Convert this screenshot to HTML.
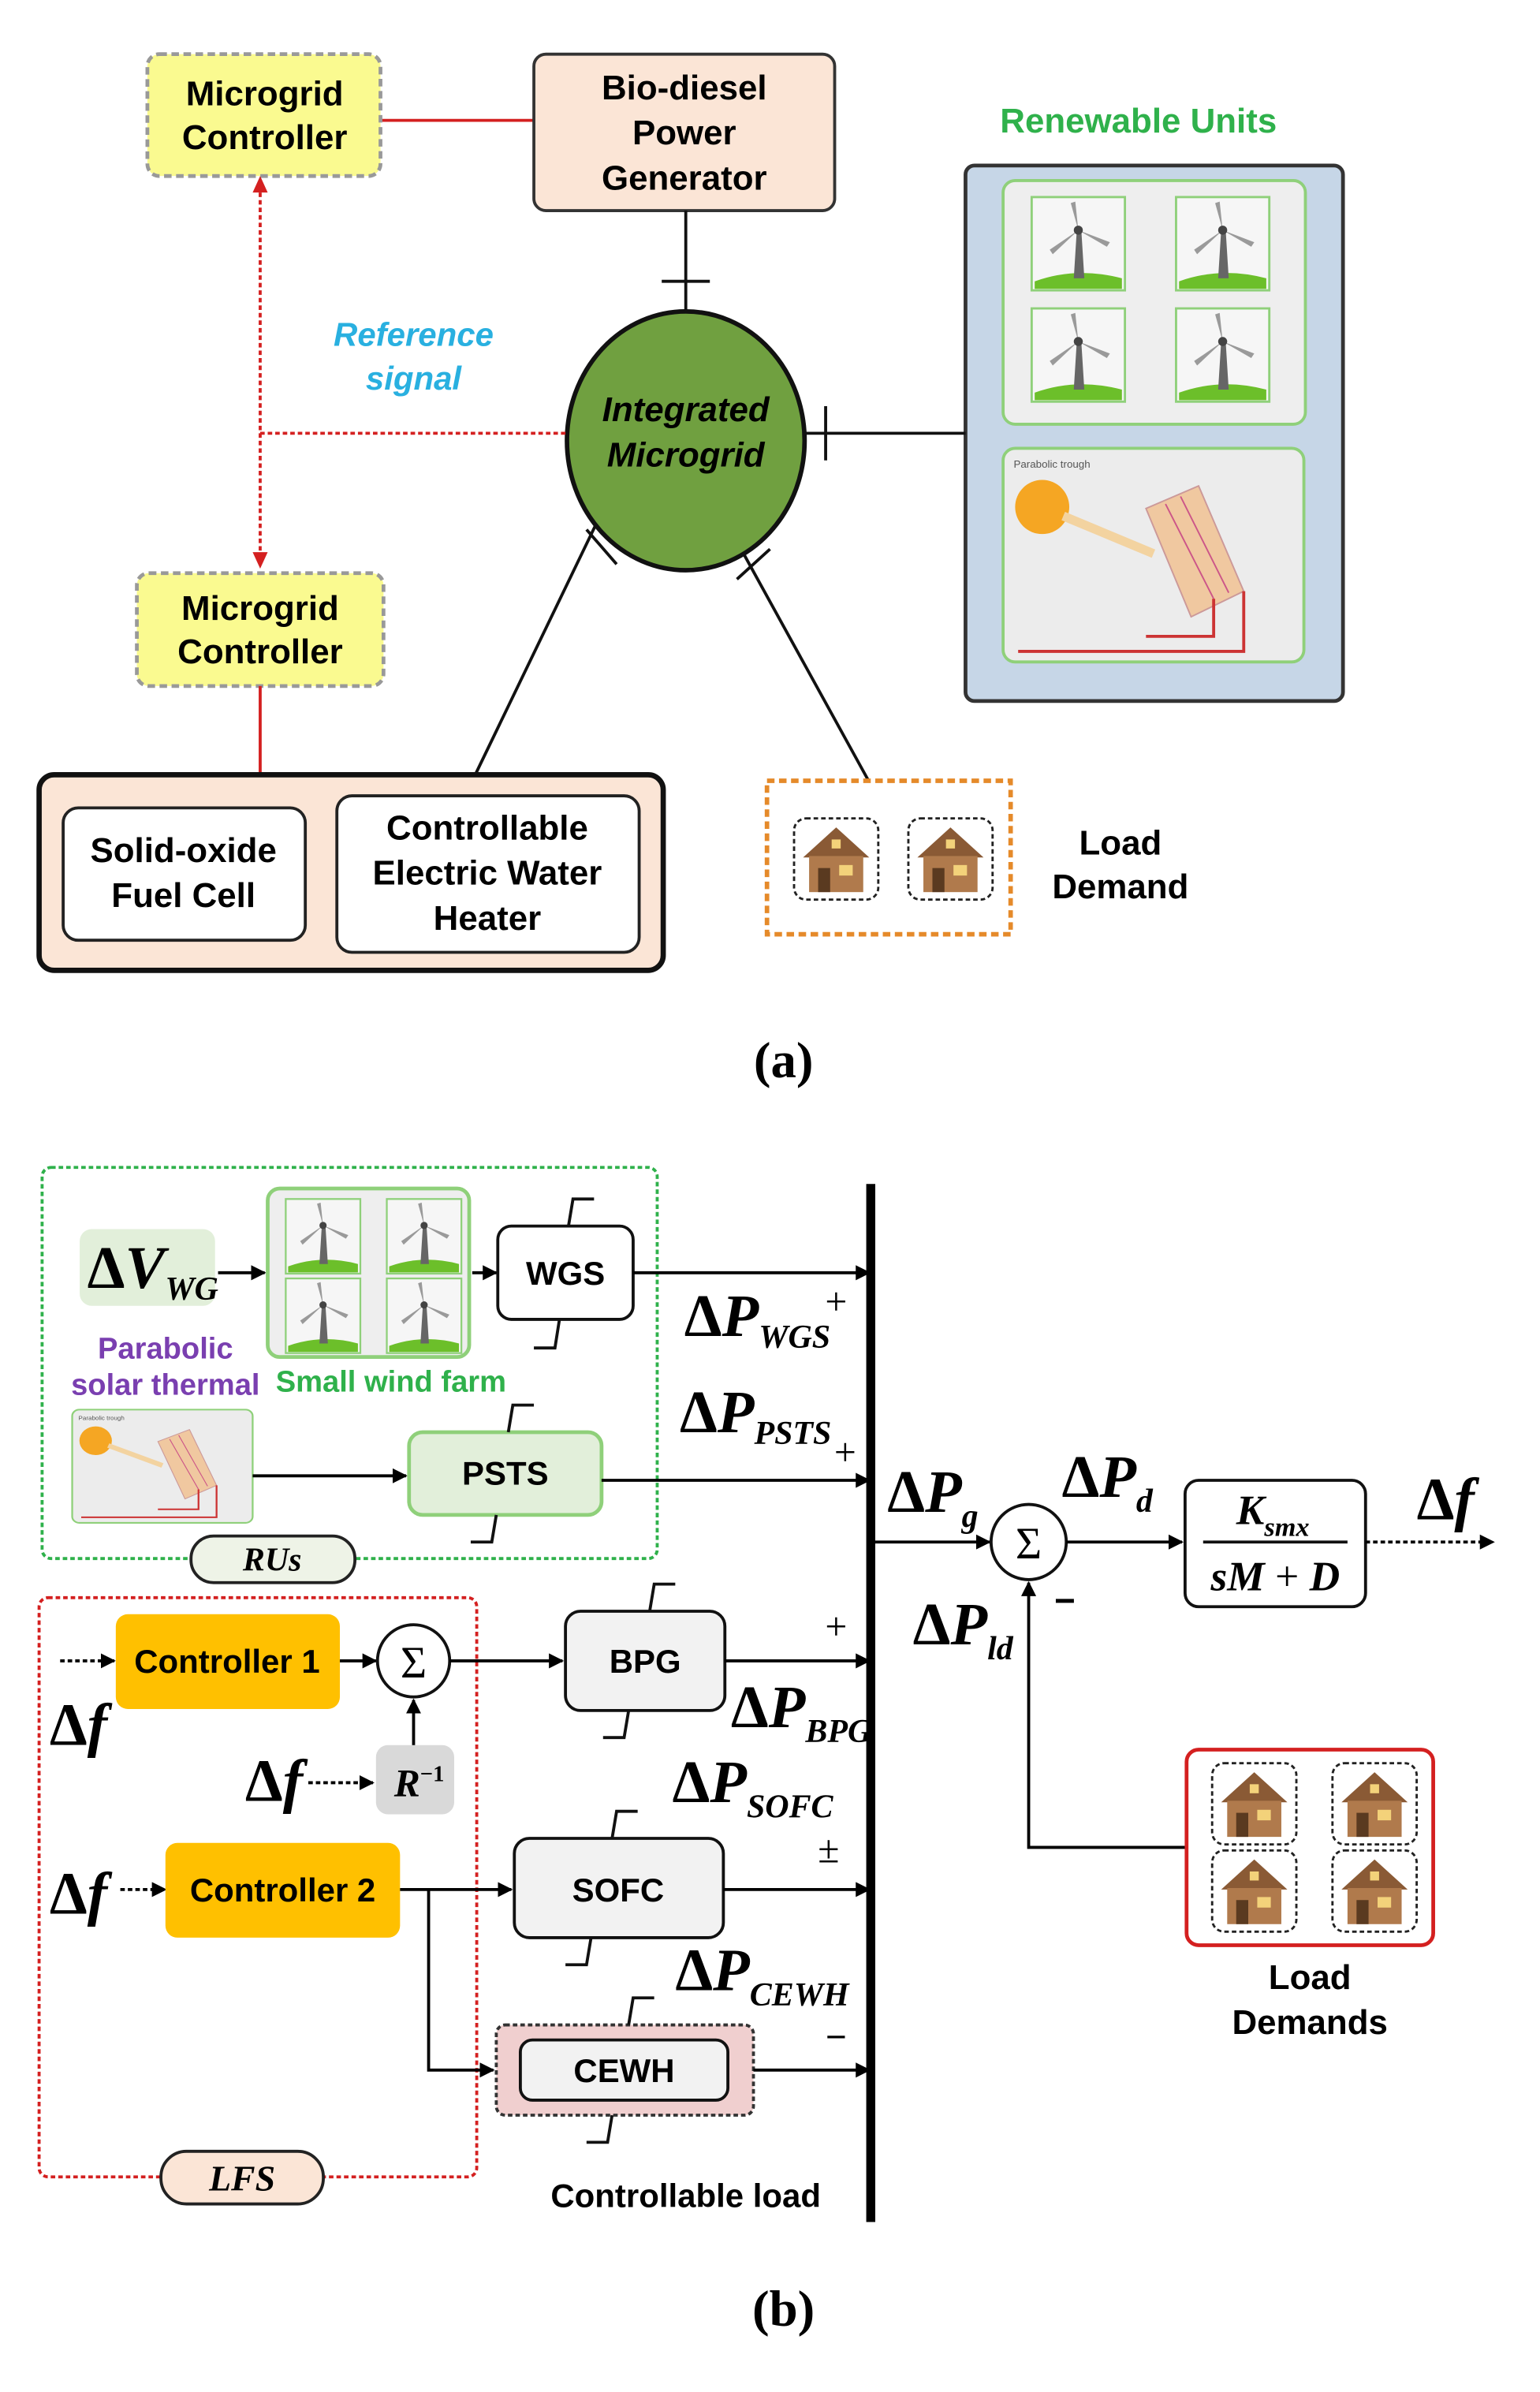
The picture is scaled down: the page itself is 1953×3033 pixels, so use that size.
<!DOCTYPE html>
<html><head><meta charset="utf-8">
<style>
html,body{margin:0;padding:0;background:#fff;}
svg{display:block;}
.s{font-family:"Liberation Sans",sans-serif;font-weight:bold;}
.m{font-family:"Liberation Serif",serif;font-weight:bold;}
.i{font-style:italic;}
</style></head><body>
<svg width="1953" height="3033" viewBox="0 0 1024 1590" preserveAspectRatio="none" xmlns="http://www.w3.org/2000/svg">
<defs>
<marker id="ar" markerWidth="10" markerHeight="10" refX="9" refY="5" orient="auto" markerUnits="userSpaceOnUse"><path d="M0,0 L10,5 L0,10 z" fill="#000"/></marker>
<g id="tb">
<rect x="0" y="0" width="62" height="62" fill="#f6f6f6" stroke="#8fd07a" stroke-width="1.5"/>
<path d="M2,56 Q30,46 60,54 L60,61 L2,61 z" fill="#6cbf2a"/>
<path d="M28,54 L30,22 L33,22 L35,54 z" fill="#666"/>
<path d="M31,22 L26,4 L29,3 z M31,22 L52,30 L50,33 z M31,22 L14,38 L12,35 z" fill="#9a9a9a"/>
<circle cx="31" cy="22" r="3" fill="#444"/>
</g>
<g id="hs">
<rect x="0" y="0" width="56" height="54" rx="8" fill="#fff" stroke="#222" stroke-width="1.5" stroke-dasharray="3,2"/>
<path d="M6,26 L28,6 L50,26 z" fill="#8a5a35"/>
<rect x="10" y="25" width="36" height="24" fill="#b07a4c"/>
<rect x="16" y="33" width="8" height="16" fill="#5a3a20"/>
<rect x="30" y="31" width="9" height="7" fill="#f3d27a"/>
<rect x="25" y="14" width="6" height="6" fill="#f3d27a"/>
</g>
<g id="pt">
<rect x="0" y="0" width="200" height="142" rx="8" fill="#ececec" stroke="#8fd07a" stroke-width="2"/>
<text x="7" y="13" font-family="Liberation Sans" font-size="7" fill="#555">Parabolic trough</text>
<circle cx="26" cy="39" r="18" fill="#f5a623"/>
<path d="M40,45 L100,70" stroke="#f3d3a0" stroke-width="6"/>
<path d="M95,40 L130,25 L160,95 L125,112 z" fill="#f0c8a0" stroke="#c99" stroke-width="1"/>
<path d="M108,37 L140,100 M118,32 L150,96" stroke="#c58" stroke-width="1"/>
<path d="M95,125 L140,125 L140,100 M10,135 L160,135 L160,95" stroke="#c33" stroke-width="2" fill="none"/>
</g>
</defs>

<!-- ===== (a) ===== -->
<line x1="253" y1="80" x2="355" y2="80" stroke="#d42020" stroke-width="2"/>
<rect x="98" y="36" width="155" height="81" rx="8" fill="#fafa90" stroke="#999" stroke-width="2.5" stroke-dasharray="5,3"/>
<text class="s" x="176" y="70" font-size="23" text-anchor="middle">Microgrid</text>
<text class="s" x="176" y="99" font-size="23" text-anchor="middle">Controller</text>

<rect x="355" y="36" width="200" height="104" rx="8" fill="#fbe5d6" stroke="#333" stroke-width="2"/>
<text class="s" x="455" y="66" font-size="23" text-anchor="middle">Bio-diesel</text>
<text class="s" x="455" y="96" font-size="23" text-anchor="middle">Power</text>
<text class="s" x="455" y="126" font-size="23" text-anchor="middle">Generator</text>

<text class="s" x="757" y="88" font-size="23" text-anchor="middle" fill="#2fb14b">Renewable Units</text>
<rect x="642" y="110" width="251" height="356" rx="6" fill="#c6d6e7" stroke="#333" stroke-width="2.5"/>
<rect x="667" y="120" width="201" height="162" rx="8" fill="#eeeeee" stroke="#8fd07a" stroke-width="2"/>
<use href="#tb" x="686" y="131"/><use href="#tb" x="782" y="131"/>
<use href="#tb" x="686" y="205"/><use href="#tb" x="782" y="205"/>
<use href="#pt" x="667" y="298"/>

<line x1="456" y1="140" x2="456" y2="208" stroke="#111" stroke-width="2"/>
<line x1="440" y1="187" x2="472" y2="187" stroke="#111" stroke-width="2"/>
<line x1="535" y1="288" x2="642" y2="288" stroke="#111" stroke-width="2"/>
<line x1="549" y1="270" x2="549" y2="306" stroke="#111" stroke-width="2"/>
<line x1="398" y1="345" x2="316" y2="515" stroke="#111" stroke-width="2"/>
<line x1="390" y1="352" x2="410" y2="375" stroke="#111" stroke-width="2"/>
<line x1="490" y1="360" x2="577" y2="518" stroke="#111" stroke-width="2"/>
<line x1="490" y1="385" x2="512" y2="365" stroke="#111" stroke-width="2"/>

<ellipse cx="456" cy="293" rx="79" ry="86" fill="#70a040" stroke="#111" stroke-width="3"/>
<text class="s i" x="456" y="280" font-size="23" text-anchor="middle">Integrated</text>
<text class="s i" x="456" y="310" font-size="23" text-anchor="middle">Microgrid</text>

<text class="s i" x="275" y="230" font-size="22" text-anchor="middle" fill="#29b0e0">Reference</text>
<text class="s i" x="275" y="259" font-size="22" text-anchor="middle" fill="#29b0e0">signal</text>
<line x1="173" y1="288" x2="377" y2="288" stroke="#d42020" stroke-width="2" stroke-dasharray="3,2"/>
<line x1="173" y1="128" x2="173" y2="366" stroke="#d42020" stroke-width="2" stroke-dasharray="3,2"/>
<path d="M173,117 L168,128 L178,128 z M173,378 L168,367 L178,367 z" fill="#d42020"/>

<rect x="91" y="381" width="164" height="75" rx="8" fill="#fafa90" stroke="#999" stroke-width="2.5" stroke-dasharray="5,3"/>
<text class="s" x="173" y="412" font-size="23" text-anchor="middle">Microgrid</text>
<text class="s" x="173" y="441" font-size="23" text-anchor="middle">Controller</text>
<line x1="173" y1="456" x2="173" y2="515" stroke="#d42020" stroke-width="2"/>

<rect x="26" y="515" width="415" height="130" rx="10" fill="#fbe5d6" stroke="#111" stroke-width="3.5"/>
<rect x="42" y="537" width="161" height="88" rx="10" fill="#fff" stroke="#222" stroke-width="2"/>
<text class="s" x="122" y="573" font-size="23" text-anchor="middle">Solid-oxide</text>
<text class="s" x="122" y="603" font-size="23" text-anchor="middle">Fuel Cell</text>
<rect x="224" y="529" width="201" height="104" rx="10" fill="#fff" stroke="#222" stroke-width="2"/>
<text class="s" x="324" y="558" font-size="23" text-anchor="middle">Controllable</text>
<text class="s" x="324" y="588" font-size="23" text-anchor="middle">Electric Water</text>
<text class="s" x="324" y="618" font-size="23" text-anchor="middle">Heater</text>

<rect x="510" y="519" width="162" height="102" fill="none" stroke="#e58a2a" stroke-width="3" stroke-dasharray="5,3"/>
<use href="#hs" x="528" y="544"/><use href="#hs" x="604" y="544"/>
<text class="s" x="745" y="568" font-size="23" text-anchor="middle">Load</text>
<text class="s" x="745" y="597" font-size="23" text-anchor="middle">Demand</text>

<text x="521" y="716" font-family="Liberation Serif" font-weight="bold" font-size="34" text-anchor="middle">(a)</text>

<!-- ===== (b) ===== -->
<rect x="28" y="776" width="409" height="260" rx="6" fill="none" stroke="#2fb14b" stroke-width="2" stroke-dasharray="3,2"/>
<rect x="53" y="817" width="90" height="51" rx="8" fill="#e2efda"/>
<text class="m" x="58" y="856" font-size="40" style="font-style:normal">Δ<tspan style="font-style:italic">V</tspan><tspan font-size="22" dy="8" style="font-style:italic">WG</tspan></text>
<line x1="145" y1="846" x2="176" y2="846" stroke="#000" stroke-width="2" marker-end="url(#ar)"/>
<rect x="178" y="790" width="134" height="112" rx="8" fill="#eeeeee" stroke="#8fd07a" stroke-width="2.5"/>
<g transform="translate(190,797) scale(0.8)"><use href="#tb" x="0" y="0"/><use href="#tb" x="84" y="0"/><use href="#tb" x="0" y="66"/><use href="#tb" x="84" y="66"/></g>
<line x1="314" y1="846" x2="330" y2="846" stroke="#000" stroke-width="2" marker-end="url(#ar)"/>
<rect x="331" y="815" width="90" height="62" rx="9" fill="#fff" stroke="#111" stroke-width="2"/>
<text class="s" x="376" y="854" font-size="22" text-anchor="middle">WGS</text>
<path d="M378,815 L381,797 L395,797 M372,877 L369,896 L355,896" stroke="#111" stroke-width="2" fill="none"/>
<line x1="421" y1="846" x2="578" y2="846" stroke="#000" stroke-width="2" marker-end="url(#ar)"/>
<text class="m" x="455" y="888" font-size="40" style="font-style:normal">Δ<tspan class="i">P</tspan><tspan class="i" font-size="22" dy="8">WGS</tspan></text>
<text x="556" y="874" font-family="Liberation Serif" font-size="26" text-anchor="middle">+</text>

<text class="s" x="110" y="903" font-size="20" text-anchor="middle" fill="#7a3fb0">Parabolic</text>
<text class="s" x="110" y="927" font-size="20" text-anchor="middle" fill="#7a3fb0">solar thermal</text>
<text class="s" x="260" y="925" font-size="20" text-anchor="middle" fill="#2fb14b">Small wind farm</text>

<g transform="translate(48,937) scale(0.6,0.53)"><use href="#pt"/></g>
<line x1="168" y1="981" x2="270" y2="981" stroke="#000" stroke-width="2" marker-end="url(#ar)"/>
<rect x="272" y="952" width="128" height="55" rx="9" fill="#e2efda" stroke="#8fd07a" stroke-width="2.5"/>
<text class="s" x="336" y="987" font-size="22" text-anchor="middle">PSTS</text>
<path d="M338,952 L341,934 L355,934 M330,1007 L327,1025 L313,1025" stroke="#111" stroke-width="2" fill="none"/>
<line x1="400" y1="984" x2="578" y2="984" stroke="#000" stroke-width="2" marker-end="url(#ar)"/>
<text class="m" x="452" y="952" font-size="40" style="font-style:normal">Δ<tspan class="i">P</tspan><tspan class="i" font-size="22" dy="8">PSTS</tspan></text>
<text x="562" y="974" font-family="Liberation Serif" font-size="26" text-anchor="middle">+</text>
<rect x="127" y="1021" width="109" height="31" rx="15" fill="#eef3e7" stroke="#222" stroke-width="2"/>
<text class="m i" x="181" y="1044" font-size="22" text-anchor="middle">RUs</text>

<rect x="576" y="787" width="6" height="690" fill="#000"/>

<text class="m" x="590" y="1005" font-size="40" style="font-style:normal">Δ<tspan class="i">P</tspan><tspan class="i" font-size="22" dy="10">g</tspan></text>
<line x1="582" y1="1025" x2="658" y2="1025" stroke="#000" stroke-width="2" marker-end="url(#ar)"/>
<circle cx="684" cy="1025" r="25" fill="#fff" stroke="#111" stroke-width="2"/>
<text x="684" y="1036" font-family="Liberation Serif" font-size="30" text-anchor="middle">Σ</text>
<text class="m" x="706" y="995" font-size="40" style="font-style:normal">Δ<tspan class="i">P</tspan><tspan class="i" font-size="22" dy="10">d</tspan></text>
<line x1="709" y1="1025" x2="786" y2="1025" stroke="#000" stroke-width="2" marker-end="url(#ar)"/>
<rect x="788" y="984" width="120" height="84" rx="9" fill="#fff" stroke="#111" stroke-width="2"/>
<text class="m i" x="822" y="1013" font-size="28">K<tspan font-size="18" dy="8">smx</tspan></text>
<line x1="800" y1="1025" x2="896" y2="1025" stroke="#111" stroke-width="2"/>
<text class="m i" x="848" y="1057" font-size="28" text-anchor="middle">sM <tspan style="font-style:normal;font-weight:normal">+</tspan> D</text>
<line x1="908" y1="1025" x2="993" y2="1025" stroke="#000" stroke-width="2" stroke-dasharray="3,2" marker-end="url(#ar)"/>
<text class="m" x="942" y="1010" font-size="40" style="font-style:normal">Δ<tspan class="i">f</tspan></text>
<text class="m" x="607" y="1093" font-size="40" style="font-style:normal">Δ<tspan class="i">P</tspan><tspan class="i" font-size="22" dy="10">ld</tspan></text>
<text x="708" y="1072" font-family="Liberation Sans" font-weight="bold" font-size="24" text-anchor="middle">−</text>

<path d="M789,1228 L684,1228 L684,1052" stroke="#000" stroke-width="2" fill="none" marker-end="url(#ar)"/>
<rect x="789" y="1163" width="164" height="130" rx="8" fill="#fff" stroke="#d42020" stroke-width="2.5"/>
<use href="#hs" x="806" y="1172"/><use href="#hs" x="886" y="1172"/>
<use href="#hs" x="806" y="1230"/><use href="#hs" x="886" y="1230"/>
<text class="s" x="871" y="1322" font-size="23" text-anchor="middle">Load</text>
<text class="s" x="871" y="1352" font-size="23" text-anchor="middle">Demands</text>

<rect x="26" y="1062" width="291" height="385" rx="6" fill="none" stroke="#d42020" stroke-width="2" stroke-dasharray="3,2"/>
<line x1="40" y1="1104" x2="76" y2="1104" stroke="#000" stroke-width="2" stroke-dasharray="3,2" marker-end="url(#ar)"/>
<rect x="77" y="1073" width="149" height="63" rx="8" fill="#ffc000"/>
<text class="s" x="151" y="1112" font-size="22" text-anchor="middle">Controller 1</text>
<text class="m" x="33" y="1160" font-size="40" style="font-style:normal">Δ<tspan class="i">f</tspan></text>
<line x1="226" y1="1104" x2="250" y2="1104" stroke="#000" stroke-width="2" marker-end="url(#ar)"/>
<circle cx="275" cy="1104" r="24" fill="#fff" stroke="#111" stroke-width="2"/>
<text x="275" y="1115" font-family="Liberation Serif" font-size="30" text-anchor="middle">Σ</text>
<line x1="299" y1="1104" x2="374" y2="1104" stroke="#000" stroke-width="2" marker-end="url(#ar)"/>
<rect x="250" y="1160" width="52" height="46" rx="8" fill="#d9d9d9"/>
<text class="m i" x="262" y="1194" font-size="26">R<tspan font-size="15" dy="-10" style="font-style:normal">−1</tspan></text>
<line x1="275" y1="1160" x2="275" y2="1130" stroke="#000" stroke-width="2" marker-end="url(#ar)"/>
<text class="m" x="163" y="1197" font-size="40" style="font-style:normal">Δ<tspan class="i">f</tspan></text>
<line x1="205" y1="1185" x2="248" y2="1185" stroke="#000" stroke-width="2" stroke-dasharray="3,2" marker-end="url(#ar)"/>

<rect x="376" y="1071" width="106" height="66" rx="10" fill="#f2f2f2" stroke="#111" stroke-width="2"/>
<text class="s" x="429" y="1112" font-size="22" text-anchor="middle">BPG</text>
<path d="M432,1071 L435,1053 L449,1053 M418,1137 L415,1155 L401,1155" stroke="#111" stroke-width="2" fill="none"/>
<line x1="482" y1="1104" x2="578" y2="1104" stroke="#000" stroke-width="2" marker-end="url(#ar)"/>
<text x="556" y="1090" font-family="Liberation Serif" font-size="26" text-anchor="middle">+</text>
<text class="m" x="486" y="1148" font-size="40" style="font-style:normal">Δ<tspan class="i">P</tspan><tspan class="i" font-size="22" dy="10">BPG</tspan></text>
<text class="m" x="447" y="1198" font-size="40" style="font-style:normal">Δ<tspan class="i">P</tspan><tspan class="i" font-size="22" dy="10">SOFC</tspan></text>

<text class="m" x="33" y="1272" font-size="40" style="font-style:normal">Δ<tspan class="i">f</tspan></text>
<line x1="80" y1="1256" x2="110" y2="1256" stroke="#000" stroke-width="2" stroke-dasharray="3,2" marker-end="url(#ar)"/>
<rect x="110" y="1225" width="156" height="63" rx="8" fill="#ffc000"/>
<text class="s" x="188" y="1264" font-size="22" text-anchor="middle">Controller 2</text>
<line x1="266" y1="1256" x2="340" y2="1256" stroke="#000" stroke-width="2" marker-end="url(#ar)"/>
<path d="M285,1256 L285,1376 L328,1376" stroke="#000" stroke-width="2" fill="none" marker-end="url(#ar)"/>
<rect x="342" y="1222" width="139" height="66" rx="10" fill="#f2f2f2" stroke="#111" stroke-width="2"/>
<text class="s" x="411" y="1264" font-size="22" text-anchor="middle">SOFC</text>
<path d="M407,1222 L410,1204 L424,1204 M393,1288 L390,1306 L376,1306" stroke="#111" stroke-width="2" fill="none"/>
<line x1="481" y1="1256" x2="578" y2="1256" stroke="#000" stroke-width="2" marker-end="url(#ar)"/>
<text x="551" y="1238" font-family="Liberation Serif" font-size="26" text-anchor="middle">±</text>
<text class="m" x="449" y="1323" font-size="40" style="font-style:normal">Δ<tspan class="i">P</tspan><tspan class="i" font-size="22" dy="10">CEWH</tspan></text>

<rect x="330" y="1346" width="171" height="60" rx="6" fill="#f0cfcf" stroke="#333" stroke-width="2" stroke-dasharray="3,2"/>
<rect x="346" y="1356" width="138" height="40" rx="8" fill="#f2f2f2" stroke="#111" stroke-width="2"/>
<text class="s" x="415" y="1384" font-size="22" text-anchor="middle">CEWH</text>
<path d="M418,1346 L421,1328 L435,1328 M407,1406 L404,1424 L390,1424" stroke="#111" stroke-width="2" fill="none"/>
<line x1="501" y1="1376" x2="578" y2="1376" stroke="#000" stroke-width="2" marker-end="url(#ar)"/>
<text x="556" y="1362" font-family="Liberation Sans" font-size="24" text-anchor="middle">−</text>

<rect x="107" y="1430" width="108" height="35" rx="17" fill="#fbe5d6" stroke="#222" stroke-width="2"/>
<text class="m i" x="161" y="1456" font-size="24" text-anchor="middle">LFS</text>
<text class="s" x="456" y="1467" font-size="22" text-anchor="middle">Controllable load</text>

<text x="521" y="1546" font-family="Liberation Serif" font-weight="bold" font-size="34" text-anchor="middle">(b)</text>
</svg>
</body></html>
